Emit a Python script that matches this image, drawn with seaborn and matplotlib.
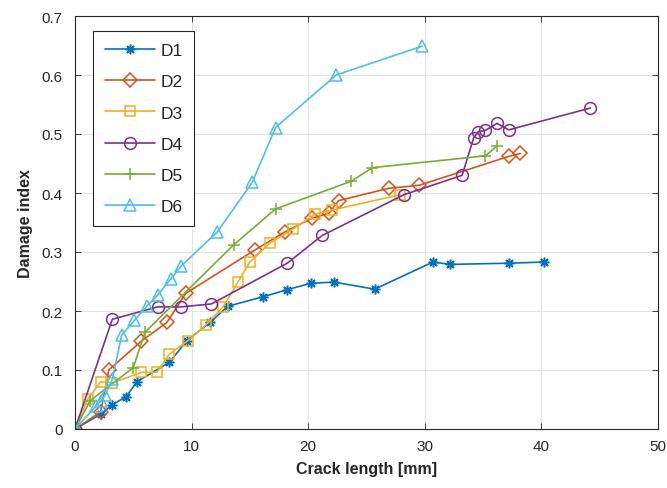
import matplotlib
matplotlib.use("Agg")
import matplotlib.pyplot as plt
import seaborn as sns
import pandas as pd
from matplotlib.ticker import FuncFormatter

# ---- data ----
names = ["D1", "D2", "D3", "D4", "D5", "D6"]

d1_x = [0, 2.2, 3.2, 4.4, 5.3, 8.1, 9.6, 11.6, 13.1, 16.1, 18.2, 20.2, 22.2, 25.7, 30.7, 32.2, 37.2, 40.2]
d1_y = [0, 0.025, 0.041, 0.055, 0.080, 0.113, 0.150, 0.181, 0.208, 0.224, 0.236, 0.247, 0.249, 0.237, 0.283, 0.279, 0.281, 0.283]

d2_x = [0, 2.2, 2.9, 5.7, 7.9, 9.5, 15.4, 18.0, 20.3, 21.8, 22.6, 26.9, 29.5, 37.2, 38.2]
d2_y = [0, 0.029, 0.100, 0.149, 0.181, 0.230, 0.303, 0.334, 0.357, 0.366, 0.387, 0.408, 0.413, 0.462, 0.467]

d3_x = [0, 1.1, 2.2, 3.2, 5.7, 7.0, 8.1, 9.7, 11.2, 12.7, 14.0, 15.0, 16.7, 18.7, 20.6, 22.0, 27.9]
d3_y = [0, 0.051, 0.080, 0.078, 0.096, 0.096, 0.127, 0.150, 0.176, 0.207, 0.250, 0.283, 0.315, 0.339, 0.364, 0.371, 0.397]

d4_x = [0, 3.2, 7.1, 9.1, 11.7, 18.2, 21.2, 28.2, 33.2, 34.2, 34.6, 35.2, 36.2, 37.2, 44.2]
d4_y = [0, 0.186, 0.207, 0.207, 0.212, 0.281, 0.328, 0.397, 0.430, 0.494, 0.504, 0.506, 0.518, 0.507, 0.544]

d5_x = [0, 1.3, 5.0, 6.0, 13.6, 17.2, 23.7, 25.5, 35.2, 36.2]
d5_y = [0, 0.048, 0.104, 0.164, 0.312, 0.373, 0.420, 0.443, 0.463, 0.480]

d6_x = [0, 1.8, 2.2, 2.6, 3.2, 4.0, 5.1, 6.2, 7.1, 8.2, 9.1, 12.2, 15.2, 17.2, 22.4, 29.8]
d6_y = [0, 0.039, 0.047, 0.058, 0.084, 0.159, 0.184, 0.209, 0.227, 0.254, 0.276, 0.334, 0.418, 0.511, 0.600, 0.649]

xs = [d1_x, d2_x, d3_x, d4_x, d5_x, d6_x]
ys = [d1_y, d2_y, d3_y, d4_y, d5_y, d6_y]

x_ticks = [0, 10, 20, 30, 40, 50]
y_ticks = [0, 0.1, 0.2, 0.3, 0.4, 0.5, 0.6, 0.7]

# ---- style ----
colors = ["#0072BD", "#D95319", "#EDB120", "#7E2F8E", "#77AC30", "#4DBEEE"]
markers = [(8, 2, 0), "D", "s", "o", "+", "^"]
msizes = [7, 7.5, 7, 8.5, 9, 8.5]

sns.set_theme(style="white")
plt.rcParams["font.family"] = ["Liberation Sans", "DejaVu Sans"]

fig = plt.figure(figsize=(6.67, 4.89), dpi=100)
ax = fig.add_axes([75 / 667, 1 - 430 / 489, 583 / 667, 413 / 489])

for name, x, y, c, m, ms in zip(names, xs, ys, colors, markers, msizes):
    df = pd.DataFrame({"x": x, "y": y})
    sns.lineplot(data=df, x="x", y="y", ax=ax, color=c, marker=m, markersize=ms,
                 markerfacecolor="none", markeredgecolor=c, markeredgewidth=1.1,
                 linewidth=1.2, estimator=None, sort=False, label=name)

ax.set_xlim(0, 50)
ax.set_ylim(0, 0.7)
ax.set_xticks(x_ticks)
ax.set_yticks(y_ticks)
ax.yaxis.set_major_formatter(FuncFormatter(lambda v, p: "0" if abs(v) < 1e-9 else f"{v:.1f}"))
ax.xaxis.set_major_formatter(FuncFormatter(lambda v, p: f"{int(round(v))}"))
ax.grid(True, color="#e3e3e3", linewidth=0.8)
ax.set_axisbelow(True)
for s in ax.spines.values():
    s.set_color("#262626")
    s.set_linewidth(0.8)
    s.set_visible(True)
ax.tick_params(direction="in", length=4, width=0.6, colors="#262626",
               labelsize=11, top=True, right=True, bottom=True, left=True,
               labelcolor="#262626")
ax.tick_params(axis="y", pad=9)
ax.tick_params(axis="x", pad=7)

ax.set_xlabel("Crack length [mm]", fontsize=11.5, fontweight="bold", color="#262626", labelpad=6)
ax.set_ylabel("Damage index", fontsize=11.5, fontweight="bold", color="#262626", labelpad=6)

leg = ax.legend(loc="upper left", bbox_to_anchor=((93 - 75) / 583, (430 - 32) / 413),
                borderaxespad=0, fontsize=12.5, handlelength=2.9, labelspacing=0.93,
                frameon=True, fancybox=False, edgecolor="#262626", framealpha=1,
                borderpad=0.68, handletextpad=0.3)
leg.get_frame().set_linewidth(0.8)

fig.savefig("out.png", dpi=100)
